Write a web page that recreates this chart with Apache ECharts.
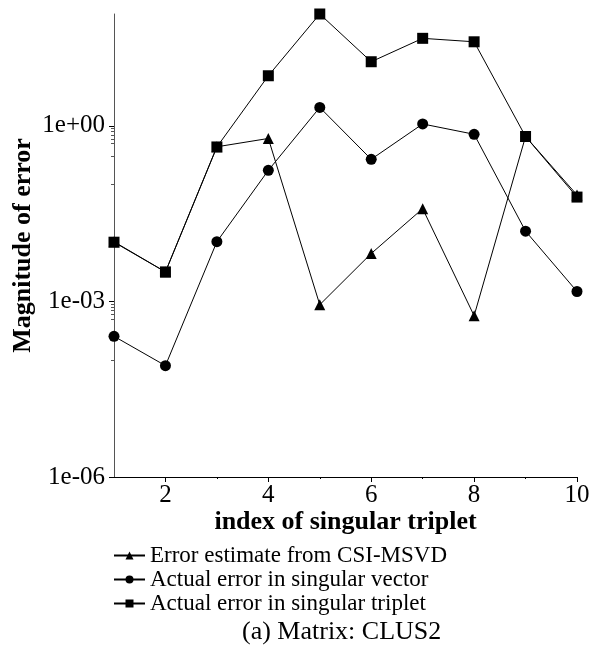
<!DOCTYPE html>
<html><head><meta charset="utf-8">
<script src="https://cdn.jsdelivr.net/npm/echarts@6/dist/echarts.min.js"></script>
<style>html,body{margin:0;padding:0;background:#fff}#c{width:594px;height:654px}</style>
</head><body><div id="c"></div>
<script>
var xIndex = [1,2,3,4,5,6,7,8,9,10];
var estimateCSI = [0.0105, 0.0032, 0.44, 0.61, 0.00088, 0.0066, 0.0385, 0.00057, 0.66, 0.066];
var errVector = [0.000254, 0.00008, 0.0105, 0.174, 2.07, 0.269, 1.08, 0.72, 0.0159, 0.00148];
var errTriplet = [0.0103, 0.0032, 0.437, 7.2, 81.8, 12.5, 31.4, 27.4, 0.66, 0.0608];
var seriesNames = ['Error estimate from CSI-MSVD','Actual error in singular vector','Actual error in singular triplet'];
var xMajorTicks = [2,4,6,8,10];
var xMinorTicks = [3,5,7,9];
var yMinorTicks = [0.9,0.8,0.7,0.6,0.5,0.3,0.1, 0.0009,0.0008,0.0007,0.0006,0.0005,0.0003,0.0001];
var caption = '(a) Matrix: CLUS2';

var FONT = '"Liberation Serif","Times New Roman",serif';
function pairs(arr){ return xIndex.map(function(x,i){ return [x, arr[i]]; }); }
function fmtExp(v){
  var e = Math.round(Math.log10(v));
  var s = e < 0 ? '-' : '+';
  var a = Math.abs(e);
  return '1e' + s + (a < 10 ? '0' + a : '' + a);
}
var chart = echarts.init(document.getElementById('c'), null, {renderer:'canvas'});
function mk(name, data, symbol, size){
  return {name:name, type:'line', data:pairs(data), symbol:symbol, symbolSize:size,
    lineStyle:{color:'#000', width:1}, itemStyle:{color:'#000'}, animation:false, z:3};
}
var Y_MAX = 81.8;
chart.setOption({
  animation:false,
  grid:{left:114, right:17, top:14, bottom:177, containLabel:false, outerBoundsMode:'none'},
  xAxis:[{type:'value', min:1, max:10, interval:1,
    name:'index of singular triplet', nameLocation:'middle', nameGap:32, nameMoveOverlap:false,
    nameTextStyle:{fontFamily:FONT, fontSize:26, fontWeight:'bold', color:'#000'},
    axisLine:{lineStyle:{color:'#000', width:1}},
    axisTick:{show:true, length:5, customValues:xMajorTicks, lineStyle:{color:'#000'}},
    axisLabel:{fontFamily:FONT, fontSize:25, color:'#000', margin:6,
      formatter:function(v){ return (v % 2 === 0) ? String(v) : ''; }},
    splitLine:{show:false}},
   {type:'value', min:1, max:10, interval:1, position:'bottom', offset:0,
    axisLine:{show:false}, axisLabel:{show:false}, splitLine:{show:false},
    axisTick:{show:true, length:2, customValues:xMinorTicks, lineStyle:{color:'#000'}}}],
  yAxis:[{type:'log', logBase:1000, min:1e-6, max:Y_MAX, interval:1,
    name:'Magnitude of error', nameLocation:'middle', nameGap:78, nameMoveOverlap:false,
    nameTextStyle:{fontFamily:FONT, fontSize:26, fontWeight:'bold', color:'#000'},
    axisLine:{show:true, lineStyle:{color:'#555', width:1}},
    axisTick:{show:true, length:5, lineStyle:{color:'#000'}},
    axisLabel:{fontFamily:FONT, fontSize:25, color:'#000', margin:9, formatter:fmtExp,
      showMaxLabel:false},
    splitLine:{show:false}},
   {type:'log', logBase:1000, min:1e-6, max:Y_MAX, position:'left', offset:0,
    axisLine:{show:false}, axisLabel:{show:false}, splitLine:{show:false},
    axisTick:{show:true, length:3, customValues:yMinorTicks, lineStyle:{color:'#555'}}}],
  legend:{orient:'vertical', left:113, top:544, padding:0, itemGap:1, itemWidth:31, itemHeight:10,
    textStyle:{fontFamily:FONT, fontSize:23, lineHeight:23, color:'#000'},
    data:seriesNames},
  graphic:[{type:'text', left:242, top:619,
    style:{text:caption, font:'26px ' + FONT, fill:'#000'}}],
  series:[
    mk(seriesNames[0], estimateCSI, 'triangle', 11),
    mk(seriesNames[1], errVector, 'circle', 11),
    mk(seriesNames[2], errTriplet, 'rect', 11)
  ]
});
</script></body></html>
